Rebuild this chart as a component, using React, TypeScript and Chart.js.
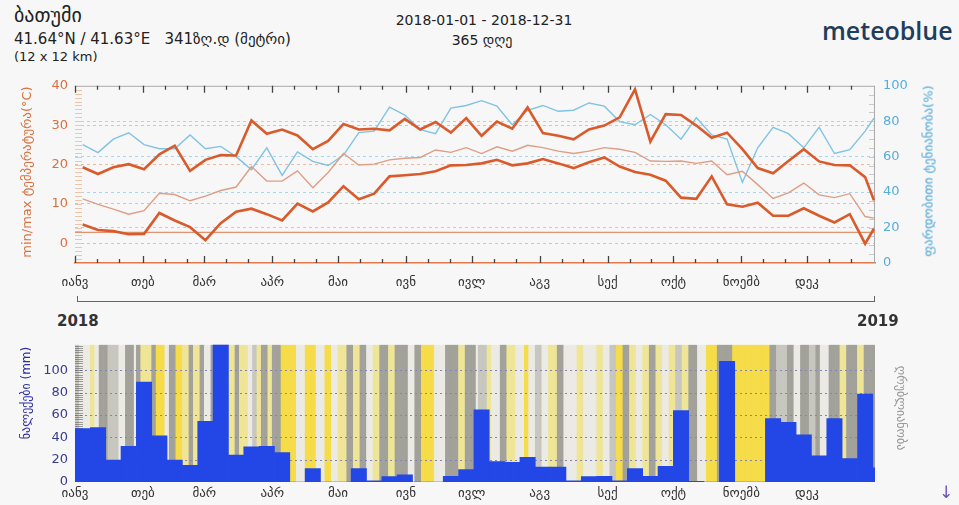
import React, { useEffect, useRef } from "react";
import { Chart, registerables } from "chart.js";

Chart.register(...registerables);

const FONT = "'DejaVu Sans', sans-serif";

// ---------- categories ----------
const daysInYear = 365;
const monthStarts = [0, 31, 59, 90, 120, 151, 181, 212, 243, 273, 304, 334];
const monthLabels = ["იანვ", "თებ", "მარ", "აპრ", "მაი", "ივნ", "ივლ", "აგვ", "სექ", "ოქტ", "ნოემბ", "დეკ"];
const weekStarts = Array.from({ length: 53 }, (_, k) => k * 7);

// ---------- weekly series (°C, %, mm) ----------
const tempMax = [19.3, 17.6, 19.3, 20.1, 18.8, 22.6, 24.8, 18.4, 21.2, 22.4, 22.3, 31.2, 27.8, 28.9, 27.4, 23.9, 26.0, 30.3, 28.9, 29.1, 28.7, 31.6, 28.9, 30.8, 28.1, 31.8, 27.3, 30.9, 29.1, 34.5, 28.0, 27.3, 26.4, 28.9, 29.9, 32.0, 39.1, 25.8, 32.8, 32.6, 29.9, 26.8, 28.1, 23.9, 19.1, 17.8, 20.9, 23.9, 20.8, 19.9, 19.8, 16.8, 10.9];
const tempMean = [11.3, 9.9, 8.7, 7.4, 8.3, 12.7, 12.4, 10.8, 12.0, 13.4, 14.3, 19.5, 15.8, 15.8, 18.4, 14.1, 18.0, 22.8, 19.9, 20.1, 21.2, 21.6, 21.8, 23.7, 23.1, 24.3, 22.8, 24.5, 23.4, 24.9, 24.3, 23.4, 22.8, 23.4, 24.3, 23.9, 23.1, 20.9, 20.8, 20.9, 20.3, 20.9, 17.4, 18.3, 14.9, 11.4, 12.8, 15.3, 12.3, 11.6, 12.6, 6.8, 6.4];
const tempMin = [4.8, 3.4, 3.1, 2.3, 2.4, 7.7, 5.8, 4.1, 0.8, 5.1, 8.0, 8.8, 7.4, 5.8, 10.1, 8.1, 10.4, 14.5, 11.2, 12.6, 17.0, 17.3, 17.6, 18.3, 19.8, 19.9, 20.3, 21.2, 19.8, 20.3, 21.4, 20.3, 19.1, 20.6, 21.8, 19.5, 18.1, 17.4, 15.9, 11.6, 11.3, 17.0, 9.9, 9.3, 10.3, 7.0, 7.0, 8.9, 7.0, 5.3, 7.4, -0.1, 3.7];
const humidity = [66.8, 62.3, 69.9, 73.5, 66.8, 64.5, 64.5, 72.3, 64.5, 65.8, 60.0, 52.7, 65.0, 49.5, 62.7, 57.3, 55.0, 60.9, 73.6, 74.4, 88.0, 83.5, 75.3, 73.0, 87.4, 88.9, 91.6, 88.5, 78.0, 86.2, 88.9, 85.6, 86.2, 90.3, 88.5, 79.8, 78.0, 83.8, 78.0, 69.9, 82.0, 72.3, 69.9, 45.5, 65.0, 76.6, 73.0, 65.0, 76.6, 61.8, 64.0, 74.4, 81.7];
const precipWeekly = [47.8, 48.6, 19.7, 31.8, 89.3, 41.3, 19.7, 14.9, 54.3, 125, 24.0, 31.5, 32.0, 26.2, 0, 11.9, 0, 0, 11.9, 1.0, 4.8, 6.5, 0, 0, 5.0, 11.2, 64.6, 18.3, 17.5, 22.0, 13.3, 13.3, 1.0, 4.8, 5.0, 1.0, 11.9, 5.0, 14.0, 63.8, 0.5, 0, 108, 0, 0, 56.8, 53.4, 42.2, 23.4, 56.8, 21.0, 78.7, 12.7];
const refLineTemp = 2.8;

// ---------- daily cloudiness (run-length: end day, class code) ----------
const cloudRunEnds = [2, 7, 9, 11, 15, 20, 23, 27, 28, 30, 35, 37, 41, 43, 46, 49, 52, 54, 57, 59, 62, 70, 73, 75, 79, 81, 83, 85, 88, 90, 94, 101, 105, 110, 114, 117, 120, 124, 127, 130, 133, 136, 139, 143, 146, 152, 155, 158, 164, 169, 175, 178, 183, 184, 188, 190, 194, 197, 201, 205, 207, 210, 213, 216, 220, 223, 229, 232, 238, 241, 244, 247, 250, 253, 256, 259, 262, 265, 268, 271, 274, 277, 280, 284, 288, 293, 300, 317, 320, 325, 328, 331, 335, 338, 340, 344, 349, 352, 357, 360, 365];
const cloudRunCodes = "gwywGgwGwG" + "yGYwGYyGyG" + "wGyGywgyGy" + "GYwYwYwyGy" + "GwyGyGwGYw" + "GyGwgywGyw" + "YwgwyGwywy" + "wgYGywyGyw" + "ygyGwYGYGg" + "GwGgGwGyGy" + "G";
const cloudCoverByCode: Record<string, number> = { Y: 5, y: 25, w: 45, g: 70, G: 90 };

const precipAxisMax = 122.7;

const cloudDaily: number[] = [];
{
  let start = 0;
  cloudRunEnds.forEach((end, i) => {
    for (let d = start; d < end; d++) cloudDaily.push(cloudCoverByCode[cloudRunCodes[i]]);
    start = end;
  });
}

function cloudColor(c: number) {
  if (c < 15) return "#f5dc48";
  if (c < 35) return "#efe596";
  if (c < 55) return "#ebeae4";
  if (c < 80) return "#c7c6bf";
  return "#a2a19a";
}

const monthTicks = (s: any) => {
  s.ticks = monthStarts.map((v) => ({ value: v }));
};
const monthLabel = (v: any) => {
  const i = monthStarts.indexOf(Number(v));
  return i >= 0 ? monthLabels[i] : "";
};

const topDecor = {
  id: "topDecor",
  beforeDatasetsDraw(chart: any) {
    const { ctx, chartArea: a, scales } = chart;
    const x = scales.x, y = scales.y, yH = scales.yH;
    ctx.save();
    ctx.lineWidth = 1;
    ctx.strokeStyle = "#f0c3aa";
    for (let t = -4; t < 40; t++) {
      const py = Math.round(y.getPixelForValue(t)) + 0.5;
      ctx.beginPath();
      ctx.moveTo(a.left, py);
      ctx.lineTo(a.left + 7, py);
      ctx.stroke();
    }
    ctx.strokeStyle = "#c9c9c9";
    for (let h = 5; h < 100; h += 5) {
      const py = Math.round(yH.getPixelForValue(h)) + 0.5;
      ctx.beginPath();
      ctx.moveTo(a.right - 6, py);
      ctx.lineTo(a.right, py);
      ctx.stroke();
    }
    ctx.strokeStyle = "#aaaaaa";
    ctx.beginPath();
    ctx.moveTo(a.left, a.top + 0.5);
    ctx.lineTo(a.right, a.top + 0.5);
    ctx.moveTo(a.right - 0.5, a.top);
    ctx.lineTo(a.right - 0.5, a.bottom);
    ctx.stroke();
    ctx.strokeStyle = "#444";
    ctx.lineWidth = 1.3;
    monthStarts.forEach((m) =>
      [0, 10, 20].forEach((off) => {
        const d = m + off;
        const px = Math.round(x.getPixelForValue(d)) + 0.5;
        const len = off === 0 ? 7 : 4;
        ctx.beginPath();
        ctx.moveTo(px, a.top);
        ctx.lineTo(px, a.top + len);
        ctx.moveTo(px, a.bottom);
        ctx.lineTo(px, a.bottom - len);
        ctx.stroke();
      })
    );
    ctx.restore();
  },
};

const bottomDecor = {
  id: "bottomDecor",
  afterDatasetDraw(chart: any, args: any) {
    if (args.index !== 0) return;
    const { ctx, chartArea: a, scales } = chart;
    const y = scales.y;
    ctx.save();
    ctx.strokeStyle = "#8585b5";
    ctx.lineWidth = 1;
    ctx.setLineDash([2, 3]);
    [20, 40, 60, 80, 100].forEach((v) => {
      const py = Math.round(y.getPixelForValue(v)) + 0.5;
      ctx.beginPath();
      ctx.moveTo(a.left, py);
      ctx.lineTo(a.right, py);
      ctx.stroke();
    });
    ctx.setLineDash([]);
    ctx.strokeStyle = "rgba(90,90,90,0.55)";
    for (let v = 2; v < precipAxisMax; v += 2) {
      const py = Math.round(y.getPixelForValue(v)) + 0.5;
      ctx.beginPath();
      ctx.moveTo(a.left, py);
      ctx.lineTo(a.left + 8, py);
      ctx.stroke();
    }
    ctx.restore();
  },
};

function TopChart() {
  const ref = useRef<HTMLCanvasElement>(null);
  useEffect(() => {
    const lineX = weekStarts.map((s) => (s + Math.min(s + 7, daysInYear)) / 2);
    const pts = (arr: number[]) => arr.map((v, i) => ({ x: lineX[i], y: v }));
    const common = { pointRadius: 0, tension: 0, fill: false };
    const chart = new Chart(ref.current as HTMLCanvasElement, {
      type: "line",
      data: {
        datasets: [
          { ...common, label: "ფარდობითი ტენიანობა", data: pts(humidity), yAxisID: "yH", borderColor: "#80c3e2", borderWidth: 1.4, order: 5 },
          { ...common, label: "ref", data: [{ x: 0, y: refLineTemp }, { x: daysInYear, y: refLineTemp }], yAxisID: "y", borderColor: "#e29070", borderWidth: 1.2, order: 4 },
          { ...common, label: "საშუალო", data: pts(tempMean), yAxisID: "y", borderColor: "#df9d85", borderWidth: 1.4, order: 3 },
          { ...common, label: "min", data: pts(tempMin), yAxisID: "y", borderColor: "#d95b2c", borderWidth: 2.6, order: 2 },
          { ...common, label: "max", data: pts(tempMax), yAxisID: "y", borderColor: "#d95b2c", borderWidth: 2.6, order: 1 },
        ],
      } as any,
      options: {
        animation: false,
        responsive: false,
        events: [],
        layout: { padding: { top: 13, left: 0, right: 0, bottom: 0 } },
        plugins: { legend: { display: false }, tooltip: { enabled: false } },
        scales: {
          x: {
            type: "linear",
            min: 0,
            max: daysInYear,
            afterBuildTicks: monthTicks,
            ticks: { autoSkip: false, maxRotation: 0, padding: 12, color: "#333", font: { size: 13, family: FONT }, callback: monthLabel },
            grid: { display: false, drawTicks: false },
            border: { display: true, color: "#e2784c", width: 1.5 },
            afterFit: (s: any) => { s.height = 39; },
          },
          y: {
            position: "left",
            min: -5,
            max: 40,
            afterBuildTicks: (s: any) => { s.ticks = [0, 10, 20, 30, 40].map((v) => ({ value: v })); },
            ticks: { color: "#d9703f", font: { size: 13, family: FONT }, padding: 7 },
            grid: { drawTicks: false, color: (c: any) => (c.tick && c.tick.value < 40 ? "#f2b99c" : "rgba(0,0,0,0)"), lineWidth: 1 },
            border: { display: false, dash: [3, 3] },
            afterFit: (s: any) => { s.width = 75; },
          },
          yH: {
            position: "right",
            min: 0,
            max: 100,
            afterBuildTicks: (s: any) => { s.ticks = [0, 20, 40, 60, 80, 100].map((v) => ({ value: v })); },
            ticks: { color: "#58acd8", font: { size: 13, family: FONT }, padding: 8 },
            grid: { drawTicks: false, color: (c: any) => (c.tick && c.tick.value > 0 && c.tick.value < 100 ? "#a9d6ec" : "rgba(0,0,0,0)"), lineWidth: 1 },
            border: { display: false, dash: [3, 3] },
            afterFit: (s: any) => { s.width = 84; },
          },
        },
      } as any,
      plugins: [topDecor],
    });
    return () => chart.destroy();
  }, []);
  return <canvas ref={ref} width={959} height={232} style={{ position: "absolute", left: 0, top: 70 }} />;
}

function BottomChart() {
  const ref = useRef<HTMLCanvasElement>(null);
  useEffect(() => {
    const chart = new Chart(ref.current as HTMLCanvasElement, {
      type: "bar",
      data: {
        datasets: [
          {
            label: "ღრუბლიანობა",
            data: cloudDaily.map((_, d) => ({ x: d + 0.5, y: precipAxisMax })),
            xAxisID: "xs",
            backgroundColor: cloudDaily.map(cloudColor),
            barPercentage: 1,
            categoryPercentage: 1,
            borderWidth: 0,
            grouped: false,
            order: 2,
          },
          {
            label: "ნალექები",
            data: precipWeekly.map((v, i) => ({ x: weekStarts[i] + 3.5, y: v })),
            xAxisID: "x",
            backgroundColor: "#2347e6",
            barPercentage: 1,
            categoryPercentage: 1,
            borderWidth: 0,
            grouped: false,
            order: 1,
          },
        ],
      } as any,
      options: {
        animation: false,
        responsive: false,
        events: [],
        layout: { padding: { top: 6, right: 84, left: 0, bottom: 0 } },
        plugins: { legend: { display: false }, tooltip: { enabled: false } },
        scales: {
          x: {
            type: "linear",
            min: 0,
            max: daysInYear,
            offset: false,
            afterBuildTicks: monthTicks,
            ticks: { autoSkip: false, maxRotation: 0, padding: 4, color: "#333", font: { size: 13, family: FONT }, callback: monthLabel },
            grid: { display: false, drawTicks: false },
            border: { display: false },
            afterFit: (s: any) => { s.height = 23; },
          },
          xs: { type: "linear", min: 0, max: daysInYear, offset: false, display: false },
          y: {
            min: 0,
            max: precipAxisMax,
            afterBuildTicks: (s: any) => { s.ticks = [0, 20, 40, 60, 80, 100].map((v) => ({ value: v })); },
            ticks: { color: "#3b3b8e", font: { size: 13, family: FONT }, padding: 7 },
            grid: { display: false, drawTicks: false },
            border: { display: false },
            afterFit: (s: any) => { s.width = 75; },
          },
        },
      } as any,
      plugins: [bottomDecor],
    });
    return () => chart.destroy();
  }, []);
  return <canvas ref={ref} width={959} height={175} style={{ position: "absolute", left: 0, top: 330 }} />;
}

const abs = (style: React.CSSProperties): React.CSSProperties => ({
  position: "absolute",
  whiteSpace: "nowrap",
  fontFamily: FONT,
  lineHeight: 1,
  ...style,
});

function VTitle({ text, cx, cy, color, size, rot }: { text: string; cx: number; cy: number; color: string; size: number; rot: number }) {
  return (
    <div style={abs({ left: cx, top: cy, color, fontSize: size, transform: `translate(-50%, -50%) rotate(${rot}deg)` })}>{text}</div>
  );
}

export default function App() {
  return (
    <div style={{ position: "absolute", left: 0, top: 0, width: 959, height: 505, background: "#f7f7f7", overflow: "hidden" }}>
      <div style={abs({ left: 14, top: 5, fontSize: 20, color: "#222" })}>ბათუმი</div>
      <div style={abs({ left: 14, top: 32, fontSize: 15, color: "#222" })}>41.64°N / 41.63°E&nbsp;&nbsp;&nbsp;341ზღ.დ (მეტრი)</div>
      <div style={abs({ left: 14, top: 50, fontSize: 13, color: "#222" })}>(12 x 12 km)</div>
      <div style={abs({ left: 484, top: 13, fontSize: 14, color: "#222", transform: "translateX(-50%)" })}>2018-01-01 - 2018-12-31</div>
      <div style={abs({ left: 482, top: 33, fontSize: 14, color: "#222", transform: "translateX(-50%)" })}>365 დღე</div>
      <div style={abs({ left: 822, top: 18, fontSize: 25, color: "#1f3d5c", fontWeight: 600, fontFamily: "'Open Sans', sans-serif" })}>meteoblue</div>

      <TopChart />
      <BottomChart />

      <VTitle text="min/max ტემპერატურა(°C)" cx={26} cy={172} color="#d9703f" size={13} rot={-90} />
      <VTitle text="ფარდობითი ტენიანობა(%)" cx={928} cy={171} color="#4ea6d6" size={13} rot={-90} />
      <VTitle text="ნალექები (mm)" cx={26} cy={393} color="#2e2ea0" size={12} rot={-90} />
      <VTitle text="ღრუბლიანობა" cx={901} cy={408} color="#999" size={12} rot={90} />

      <div style={{ position: "absolute", left: 77, top: 301, width: 798, height: 0, borderTop: "1.5px solid #666" }} />
      <div style={{ position: "absolute", left: 77, top: 296, width: 0, height: 6, borderLeft: "1.5px solid #666" }} />
      <div style={{ position: "absolute", left: 874, top: 296, width: 0, height: 6, borderLeft: "1.5px solid #666" }} />
      <div style={abs({ left: 57, top: 314, fontSize: 15, color: "#333", fontWeight: "bold" })}>2018</div>
      <div style={abs({ left: 857, top: 314, fontSize: 15, color: "#333", fontWeight: "bold" })}>2019</div>
      <div style={abs({ left: 939, top: 484, fontSize: 17, color: "#6a4fc0" })}>↓</div>
    </div>
  );
}
